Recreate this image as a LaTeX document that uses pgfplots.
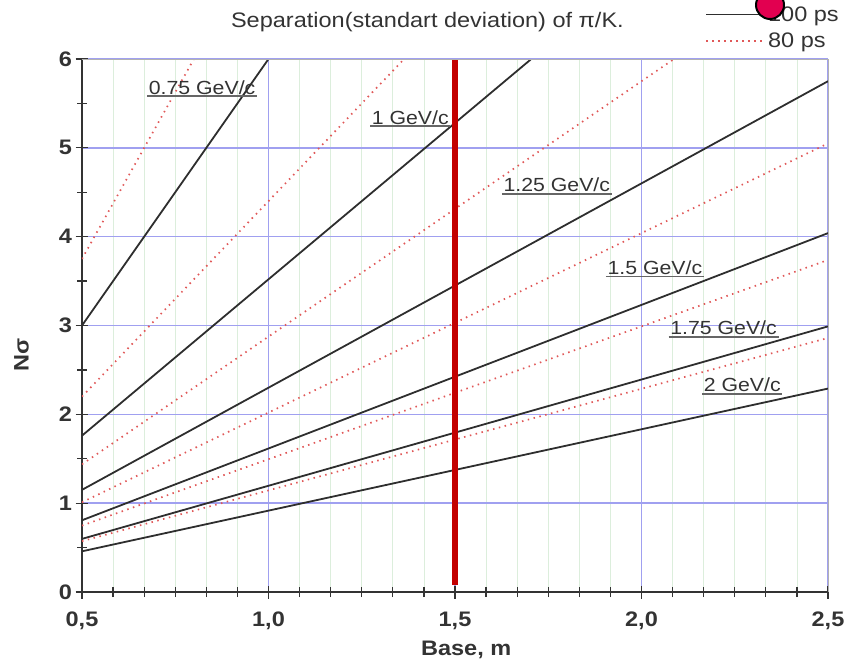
\documentclass[border=0pt]{standalone}
\usepackage{pgfplots}
\pgfplotsset{compat=1.18}
\usepackage{fontspec}
\setmainfont{Liberation Sans}[FakeStretch=1.12]
\definecolor{solidc}{HTML}{2E2E2E}
\definecolor{dotc}{HTML}{E05858}
\definecolor{redline}{HTML}{C30000}
\definecolor{majgrid}{HTML}{A0A0F0}
\definecolor{mingrid}{HTML}{DCEEDC}
\definecolor{txt}{HTML}{333333}
\begin{document}
\begin{tikzpicture}[
  lab/.style={font=\fontsize{19}{21}\selectfont, text=txt, inner sep=1.5pt,
    append after command={(\tikzlastnode.south west) edge[black!60, line width=1.8pt] (\tikzlastnode.south east)}}]
\begin{axis}[
  scale only axis, width=746pt, height=533pt,
  xmin=0.5, xmax=2.5, ymin=0, ymax=6,
  xtick={0.5,1.0,1.5,2.0,2.5}, ytick={0,1,2,3,4,5,6},
  minor x tick num=5, minor y tick num=1,
  axis lines=left,
  axis line style={-, line width=1.3pt, black!80},
  tick align=center,
  major tick length=13pt, minor tick length=10pt,
  tick style={line width=1.3pt, black!80},
  xmajorgrids, ymajorgrids, xminorgrids,
  major grid style={majgrid, line width=1.5pt},
  minor grid style={mingrid, line width=0.8pt},
  /pgf/number format/assume math mode=true,
  ticklabel style={font=\fontsize{21}{24}\selectfont\bfseries, text=txt},
  xticklabel style={yshift=-10pt, /pgf/number format/.cd, fixed, fixed zerofill, precision=1, use comma},
  yticklabel style={/pgf/number format/.cd, fixed, precision=0},
  xlabel={Base, m}, ylabel={Nσ},
  label style={font=\fontsize{21}{24}\selectfont\bfseries, text=txt},
  xlabel style={at={(axis description cs:0.515,-0.108)}, anchor=center},
  ylabel style={at={(axis description cs:-0.081,0.445)}, anchor=center, rotate=0},
  title={Separation(standart deviation) of π/K.},
  title style={at={(axis description cs:0.463,1.058)}, anchor=center, font=\fontsize{21}{24}\selectfont, text=txt},
  legend style={at={(rel axis cs:1.016,1.017)}, anchor=south east, draw=none, fill=none,
    font=\fontsize{21}{24}\selectfont, text=txt, row sep=8pt, inner sep=0pt,
    nodes={inner sep=1pt}},
  legend cell align=left,
  legend image code/.code={\draw[#1] (0pt,0pt) -- (60pt,0pt);},
  clip=true,
  after end axis/.code={\draw[black!30, line width=1pt] (rel axis cs:0,1) -- (rel axis cs:1,1) -- (rel axis cs:1,0);},
]
% 100 ps (solid)
\addplot[solidc, line width=1.8pt] coordinates {(0.5,3.0) (1.0,6.0)};
\addlegendentry{100 ps}
% 80 ps (dotted)
\addplot[dotc, line width=1.7pt, dash pattern=on 1.5pt off 4.5pt] coordinates {(0.5,3.75) (0.8,6.0)};
\addlegendentry{80 ps}
\addplot[solidc, line width=1.8pt, forget plot] coordinates {(0.5,1.76) (1.7045,6.0)};
\addplot[solidc, line width=1.8pt, forget plot] coordinates {(0.5,1.15) (2.5,5.75)};
\addplot[solidc, line width=1.8pt, forget plot] coordinates {(0.5,0.8075) (2.5,4.04)};
\addplot[solidc, line width=1.8pt, forget plot] coordinates {(0.5,0.598) (2.5,2.99)};
\addplot[solidc, line width=1.8pt, forget plot] coordinates {(0.5,0.458) (2.5,2.29)};
\addplot[dotc, line width=1.7pt, dash pattern=on 1.5pt off 4.5pt, forget plot] coordinates {(0.5,2.2) (1.3636,6.0)};
\addplot[dotc, line width=1.7pt, dash pattern=on 1.5pt off 4.5pt, forget plot] coordinates {(0.5,1.4375) (2.087,6.0)};
\addplot[dotc, line width=1.7pt, dash pattern=on 1.5pt off 4.5pt, forget plot] coordinates {(0.5,1.01) (2.5,5.05)};
\addplot[dotc, line width=1.7pt, dash pattern=on 1.5pt off 4.5pt, forget plot] coordinates {(0.5,0.7475) (2.5,3.7375)};
\addplot[dotc, line width=1.7pt, dash pattern=on 1.5pt off 4.5pt, forget plot] coordinates {(0.5,0.572) (2.5,2.86)};
% red marker line
\addplot[redline, line width=5.5pt, forget plot] coordinates {(1.5,0.08) (1.5,6.0)};
% labels
\node[lab] at (axis cs:0.822,5.68) {0.75 GeV/c};
\node[lab] at (axis cs:1.38,5.34) {1 GeV/c};
\node[lab] at (axis cs:1.773,4.58) {1.25 GeV/c};
\node[lab] at (axis cs:2.036,3.65) {1.5 GeV/c};
\node[lab] at (axis cs:2.22,2.97) {1.75 GeV/c};
\node[lab] at (axis cs:2.27,2.33) {2 GeV/c};
\end{axis}
\node[circle, fill={rgb,255:red,226;green,0;blue,80}, draw=black, line width=2pt, minimum size=28pt, inner sep=0pt]
  at ([shift={(688pt,587pt)}]current axis.south west) {};
\pgfresetboundingbox
\path ([shift={(-82pt,-72pt)}]current axis.south west) rectangle ++(856pt,664pt);
\end{tikzpicture}
\end{document}
